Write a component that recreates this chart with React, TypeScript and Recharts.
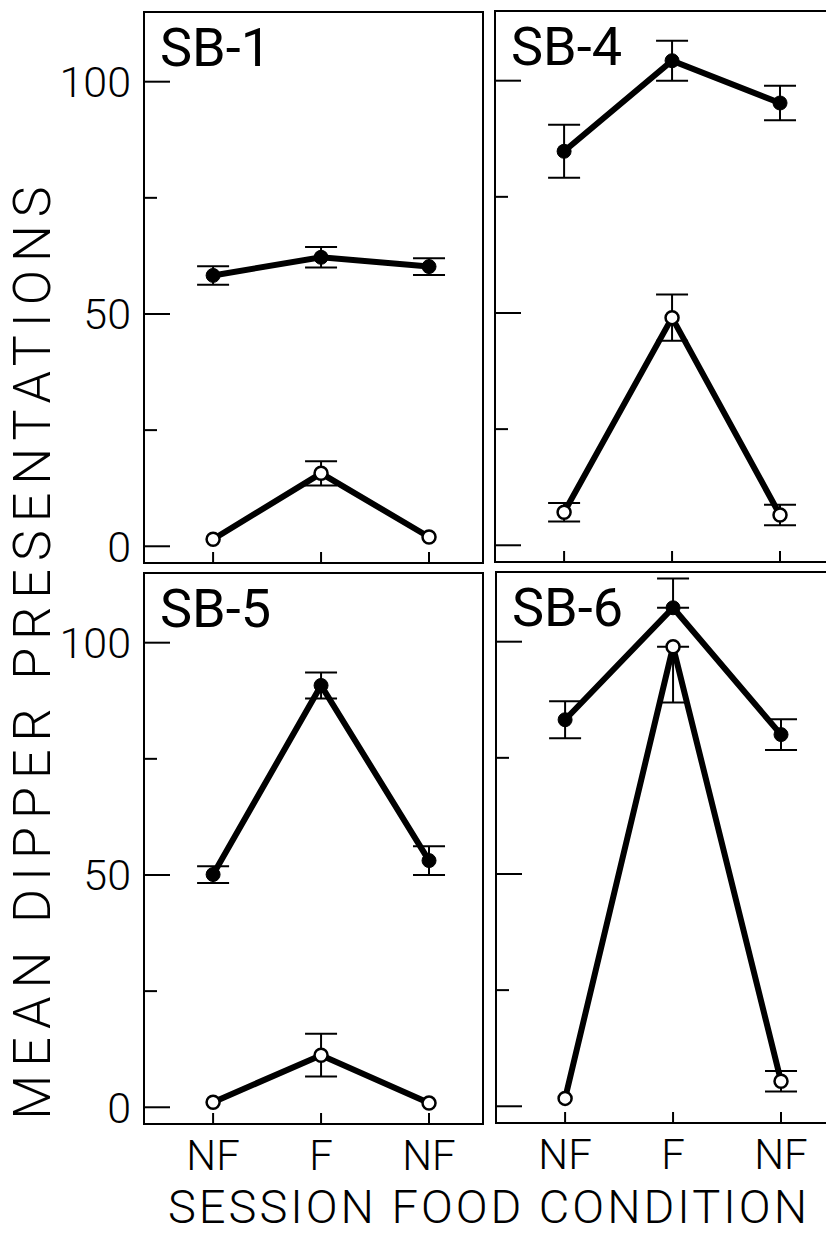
import { LineChart, Line, XAxis, YAxis, ErrorBar, ReferenceArea } from "recharts";

// x positions of the three sessions and their labels
const sessionX = [0, 1, 2];
const sessionLabels = ["NF", "F", "NF"];
const yTicks = [0, 25, 50, 75, 100];

// SB-1
const sb1Filled = [58.3, 62.2, 60.2];
const sb1FilledErr = [2.0, 2.2, 1.8];
const sb1Open = [1.5, 15.7, 2.0];
const sb1OpenErr = [0, 2.6, 0];

// SB-4
const sb4Filled = [84.8, 104.3, 95.2];
const sb4FilledErr = [5.7, 4.3, 3.7];
const sb4Open = [7.1, 49.0, 6.5];
const sb4OpenErr = [2.0, 5.0, 2.2];

// SB-5
const sb5Filled = [50.1, 90.8, 53.1];
const sb5FilledErr = [1.8, 2.8, 3.1];
const sb5Open = [1.1, 11.2, 0.9];
const sb5OpenErr = [0, 4.6, 0];

// SB-6
const sb6Filled = [83.2, 107.3, 80.0];
const sb6FilledErr: (number | number[])[] = [4.0, [0, 6.3], 3.3];
const sb6Open = [1.7, 98.9, 5.4];
const sb6OpenErr: (number | number[])[] = [0, [12, 0], 2.2];

const PLOT_W = 339;
const PLOT_H = 551;
const Y_DOMAIN: [number, number] = [-3.6, 115];
const X_DOMAIN: [number, number] = [-0.64, 2.5];
const FONT = "Roboto, 'Liberation Sans', sans-serif";

function buildRows(filled: number[], filledErr: any[], open: number[], openErr: any[]) {
  return sessionX.map((x, i) => ({
    x,
    filled: filled[i],
    filledErr: filledErr[i],
    open: open[i],
    openErr: openErr[i],
  }));
}

function YTick(props: any) {
  const { x, y, payload, showLabel } = props;
  const major = payload.value % 50 === 0;
  return (
    <g>
      <line x1={x} x2={x + (major ? 26 : 13)} y1={y} y2={y} stroke="#000" strokeWidth={2} />
      {showLabel && major && (
        <text
          x={x - 13}
          y={y}
          dy="0.36em"
          textAnchor="end"
          fontSize={43}
          fontWeight={300}
          fontFamily={FONT}
          fill="#000"
        >
          {payload.value}
        </text>
      )}
    </g>
  );
}

function XTick(props: any) {
  const { x, y, payload, showLabel } = props;
  return (
    <g>
      <line x1={x} x2={x} y1={y} y2={y - 11} stroke="#000" strokeWidth={2} />
      {showLabel && (
        <text
          x={x}
          y={y + 46}
          textAnchor="middle"
          fontSize={42}
          fontWeight={300}
          fontFamily={FONT}
          fill="#000"
        >
          {sessionLabels[payload.value]}
        </text>
      )}
    </g>
  );
}

interface PanelProps {
  title: string;
  rows: any[];
  divLeft: number;
  divTop: number;
  plotLeft: number;
  plotTop: number;
  yLabels: boolean;
  xLabels: boolean;
}

function Panel({ title, rows, divLeft, divTop, plotLeft, plotTop, yLabels, xLabels }: PanelProps) {
  const yAxisW = plotLeft - divLeft;
  const marginTop = plotTop - divTop;
  const xAxisH = xLabels ? 60 : 28;
  const width = yAxisW + PLOT_W + 2;
  const height = marginTop + PLOT_H + xAxisH;
  return (
    <div style={{ position: "absolute", left: divLeft, top: divTop }}>
      <LineChart
        width={width}
        height={height}
        data={rows}
        margin={{ top: marginTop, right: 2, bottom: 0, left: 0 }}
      >
        <XAxis
          dataKey="x"
          type="number"
          domain={X_DOMAIN}
          ticks={sessionX}
          allowDataOverflow
          axisLine={false}
          tickLine={false}
          tickSize={0}
          tickMargin={0}
          height={xAxisH}
          interval={0}
          tick={(p: any) => <XTick {...p} showLabel={xLabels} />}
        />
        <YAxis
          type="number"
          domain={Y_DOMAIN}
          ticks={yTicks}
          allowDataOverflow
          axisLine={false}
          tickLine={false}
          tickSize={0}
          tickMargin={0}
          width={yAxisW}
          interval={0}
          tick={(p: any) => <YTick {...p} showLabel={yLabels} />}
        />
        <ReferenceArea
          x1={X_DOMAIN[0]}
          x2={X_DOMAIN[1]}
          y1={Y_DOMAIN[0]}
          y2={Y_DOMAIN[1]}
          fill="none"
          fillOpacity={0}
          stroke="#000"
          strokeWidth={2}
          label={{
            value: title,
            position: "insideTopLeft",
            offset: 16,
            fontSize: 54,
            fontFamily: FONT,
            fill: "#000",
          }}
        />
        <Line
          dataKey="filled"
          type="linear"
          stroke="#000"
          strokeWidth={6}
          dot={{ r: 7, fill: "#000", stroke: "#000", strokeWidth: 1 }}
          isAnimationActive={false}
        >
          <ErrorBar dataKey="filledErr" width={16} strokeWidth={2} stroke="#000" direction="y" />
        </Line>
        <Line
          dataKey="open"
          type="linear"
          stroke="#000"
          strokeWidth={6}
          dot={{ r: 6.5, fill: "#fff", stroke: "#000", strokeWidth: 2.5 }}
          isAnimationActive={false}
        >
          <ErrorBar dataKey="openErr" width={16} strokeWidth={2} stroke="#000" direction="y" />
        </Line>
      </LineChart>
    </div>
  );
}

export default function App() {
  return (
    <div
      style={{
        position: "absolute",
        left: 0,
        top: 0,
        width: 826,
        height: 1236,
        overflow: "hidden",
        background: "#fff",
        fontFamily: FONT,
      }}
    >
      <Panel
        title="SB-1"
        rows={buildRows(sb1Filled, sb1FilledErr, sb1Open, sb1OpenErr)}
        divLeft={0}
        divTop={0}
        plotLeft={144}
        plotTop={12}
        yLabels
        xLabels={false}
      />
      <Panel
        title="SB-4"
        rows={buildRows(sb4Filled, sb4FilledErr, sb4Open, sb4OpenErr)}
        divLeft={485}
        divTop={0}
        plotLeft={495}
        plotTop={11}
        yLabels={false}
        xLabels={false}
      />
      <Panel
        title="SB-5"
        rows={buildRows(sb5Filled, sb5FilledErr, sb5Open, sb5OpenErr)}
        divLeft={0}
        divTop={566}
        plotLeft={144}
        plotTop={573}
        yLabels
        xLabels
      />
      <Panel
        title="SB-6"
        rows={buildRows(sb6Filled, sb6FilledErr, sb6Open, sb6OpenErr)}
        divLeft={485}
        divTop={566}
        plotLeft={496}
        plotTop={572}
        yLabels={false}
        xLabels
      />
      <div
        style={{
          position: "absolute",
          left: 33,
          top: 649,
          transform: "translate(-50%, -50%) rotate(-90deg)",
          whiteSpace: "nowrap",
          fontSize: 52,
          fontWeight: 300,
          lineHeight: 1,
          letterSpacing: 8,
          color: "#000",
        }}
      >
        MEAN DIPPER PRESENTATIONS
      </div>
      <div
        style={{
          position: "absolute",
          left: 489,
          top: 1188,
          transform: "translateX(-50%)",
          whiteSpace: "nowrap",
          fontSize: 47,
          fontWeight: 300,
          lineHeight: "38px",
          letterSpacing: 3,
          color: "#000",
        }}
      >
        SESSION FOOD CONDITION
      </div>
    </div>
  );
}
